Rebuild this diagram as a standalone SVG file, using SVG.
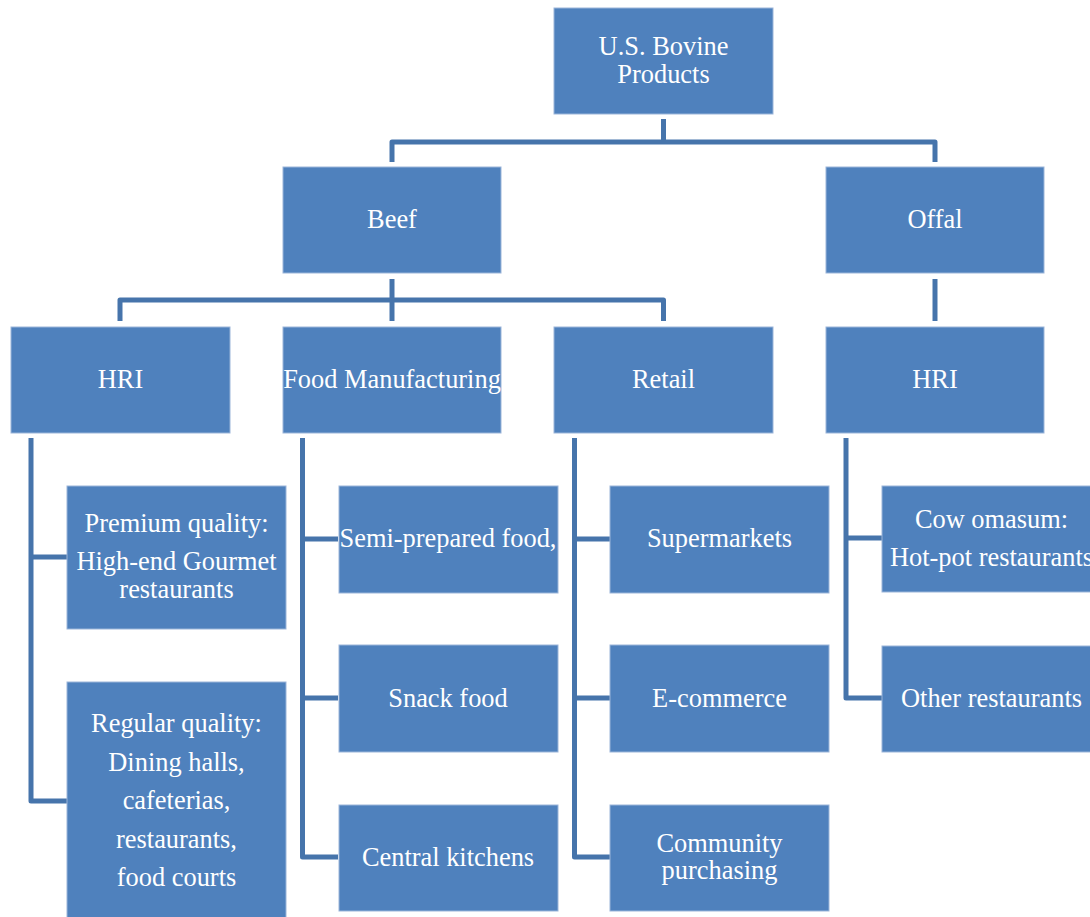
<svg xmlns="http://www.w3.org/2000/svg" width="1090" height="917" viewBox="0 0 1090 917">
<style>
.box{fill:#4f81bd;stroke:#9bb5d9;stroke-width:1}
.t{font-family:"Liberation Serif","Times New Roman",serif;font-size:26.4px;fill:#ffffff;text-anchor:middle}
.c{fill:none;stroke:#4674ab;stroke-width:5;stroke-linejoin:round}
</style>
<rect width="1090" height="917" fill="#ffffff"/>
<g id="connectors">
<path class="c" d="M663.5,119 V142 M392,162 V142 H935 V162"/>
<path class="c" d="M392,279 V300 M120,321 V300 H663.5 V321 M392,300 V321"/>
<path class="c" d="M935,279 V321"/>
<path class="c" d="M31,438 V801 H67 M31,557 H67"/>
<path class="c" d="M302.5,438 V857 H338 M302.5,539 H338 M302.5,698 H338"/>
<path class="c" d="M574.5,438 V857 H610 M574.5,539 H610 M574.5,698 H610"/>
<path class="c" d="M846,438 V698 H882 M846,538 H882"/>
</g>
<g id="n-root"><rect class="box" x="554" y="8" width="219" height="106"/><text class="t" x="663.5" y="55">U.S. Bovine</text><text class="t" x="663.5" y="83">Products</text></g>
<g id="n-beef"><rect class="box" x="283" y="167" width="218" height="106"/><text class="t" x="392" y="228">Beef</text></g>
<g id="n-offal"><rect class="box" x="826" y="167" width="218" height="106"/><text class="t" x="935" y="228">Offal</text></g>
<g id="n-hri1"><rect class="box" x="11" y="327" width="219" height="106"/><text class="t" x="120.5" y="388">HRI</text></g>
<g id="n-foodmfg"><rect class="box" x="283" y="327" width="218" height="106"/><text class="t" x="392" y="388">Food Manufacturing</text></g>
<g id="n-retail"><rect class="box" x="554" y="327" width="219" height="106"/><text class="t" x="663.5" y="388">Retail</text></g>
<g id="n-hri2"><rect class="box" x="826" y="327" width="218" height="106"/><text class="t" x="935" y="388">HRI</text></g>
<g id="n-premium"><rect class="box" x="67" y="486" width="219" height="143"/><text class="t" x="176.5" y="532">Premium quality:</text><text class="t" x="176.5" y="570">High-end Gourmet</text><text class="t" x="176.5" y="598">restaurants</text></g>
<g id="n-regular"><rect class="box" x="67" y="682" width="219" height="240"/><text class="t" x="176.5" y="732">Regular quality:</text><text class="t" x="176.5" y="771">Dining halls,</text><text class="t" x="176.5" y="809">cafeterias,</text><text class="t" x="176.5" y="848">restaurants,</text><text class="t" x="176.5" y="886">food courts</text></g>
<g id="n-semi"><rect class="box" x="339" y="486" width="219" height="107"/><text class="t" x="448" y="547">Semi-prepared food,</text></g>
<g id="n-snack"><rect class="box" x="339" y="645" width="219" height="107"/><text class="t" x="448" y="707">Snack food</text></g>
<g id="n-central"><rect class="box" x="339" y="805" width="219" height="106"/><text class="t" x="448" y="866">Central kitchens</text></g>
<g id="n-super"><rect class="box" x="610" y="486" width="219" height="107"/><text class="t" x="719.5" y="547">Supermarkets</text></g>
<g id="n-ecom"><rect class="box" x="610" y="645" width="219" height="107"/><text class="t" x="719.5" y="707">E-commerce</text></g>
<g id="n-community"><rect class="box" x="610" y="805" width="219" height="106"/><text class="t" x="719.5" y="852">Community</text><text class="t" x="719.5" y="879">purchasing</text></g>
<g id="n-omasum"><rect class="box" x="882" y="486" width="219" height="106"/><text class="t" x="991.5" y="528">Cow omasum:</text><text class="t" x="991.5" y="566">Hot-pot restaurants</text></g>
<g id="n-other"><rect class="box" x="882" y="646" width="219" height="106"/><text class="t" x="991.5" y="707">Other restaurants</text></g>
</svg>
